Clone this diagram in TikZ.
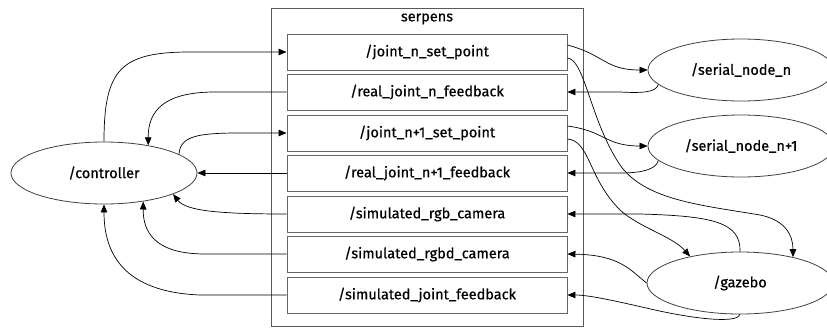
\documentclass[tikz,border=0pt]{standalone}
\usepackage{fontspec}
\setmainfont{Fira Sans}[FakeBold=0.6,BoldFont=Fira Sans]
\usetikzlibrary{arrows.meta,shapes.geometric}
\begin{document}
\begin{tikzpicture}[x=1pt,y=-1pt,
  every node/.style={font=\fontsize{14.5}{16}\selectfont\bfseries},
  topic/.style={draw=black!60,line width=0.9pt,minimum width=280pt,minimum height=36pt,inner sep=0pt},
  rnode/.style={draw=black!75,line width=0.8pt,ellipse,minimum width=186pt,minimum height=62pt,inner sep=0pt},
  cl/.style={draw=black!65,line width=0.9pt},
  conn/.style={draw=black,line width=0.7pt,-{Triangle[length=8pt,width=6.5pt]}}]
\useasboundingbox (0,0) rectangle (827,327);
% cluster
\draw[cl] (271,8) rectangle (583,326);
\node (serpens) at (427,19) {serpens};
% topics
\node[topic] (b1) at (427,52) {/joint\_n\_set\_point};
\node[topic] (b2) at (427,92) {/real\_joint\_n\_feedback};
\node[topic] (b3) at (427,133) {/joint\_n+1\_set\_point};
\node[topic] (b4) at (427,173) {/real\_joint\_n+1\_feedback};
\node[topic] (b5) at (427,214) {/simulated\_rgb\_camera};
\node[topic] (b6) at (427,254) {/simulated\_rgbd\_camera};
\node[topic] (b7) at (427,295) {/simulated\_joint\_feedback};
% ros nodes
\node[rnode] (ctrl) at (104,173) {/controller};
\node[rnode] (sn) at (741,70) {/serial\_node\_n};
\node[rnode] (sn1) at (741,146) {/serial\_node\_n+1};
\node[rnode] (gz) at (740,283) {/gazebo};
% left connectors
\draw[conn] (ctrl.north) .. controls (104,70) and (120,52) .. (190,52) -- (b1.west);
\draw[conn] (b2.west) -- (215,92) .. controls (165,92) and (148,110) .. (ctrl.32);
\draw[conn] (ctrl.14) .. controls (180,136) and (198,133) .. (240,133) -- (b3.west);
\draw[conn] (b4.west) -- (ctrl.east);
\draw[conn] (b5.west) .. controls (220,214) and (186,211) .. (ctrl.-17);
\draw[conn] (b6.west) -- (205,254) .. controls (155,254) and (143,232) .. (ctrl.-36);
\draw[conn] (b7.west) -- (200,295) .. controls (125,292) and (104,255) .. (ctrl.south);
% right connectors
\draw[conn] ([yshift=7pt]b1.east) .. controls (605,55) and (605,70) .. (sn.west);
\draw[conn] ([yshift=-6pt]b1.east) .. controls (585,60) and (590,120) .. (620,165) .. controls (645,200) and (700,205) .. (760,215) .. controls (785,220) and (793,235) .. (gz.26);
\draw[conn] (sn.190) .. controls (656,93) and (640,93) .. (620,92) -- (b2.east);
\draw[conn] ([yshift=7pt]b3.east) .. controls (605,131) and (605,146) .. (sn1.west);
\draw[conn] ([yshift=-6pt]b3.east) .. controls (590,141) and (588,178) .. (620,210) .. controls (640,228) and (672,236) .. (gz.152);
\draw[conn] (sn1.190) .. controls (656,170) and (640,173) .. (620,173) -- (b4.east);
\draw[conn] (gz.north) .. controls (741,222) and (712,216) .. (640,214) -- (b5.east);
\draw[conn] (gz.west) .. controls (630,270) and (620,255) .. (b6.east);
\draw[conn] (gz.south) .. controls (738,323) and (700,320) .. (655,310) .. controls (620,302) and (590,295) .. (b7.east);
\end{tikzpicture}
\end{document}
